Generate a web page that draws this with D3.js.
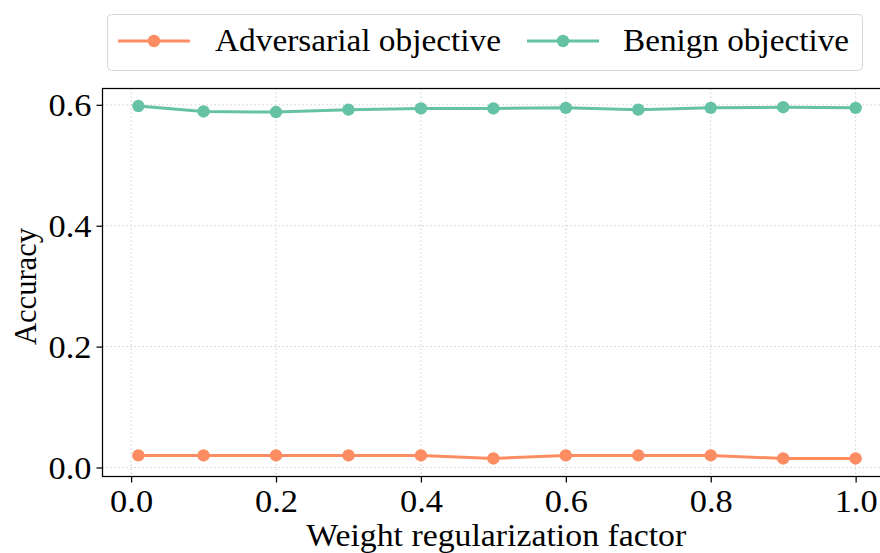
<!DOCTYPE html>
<html>
<head>
<meta charset="utf-8">
<script src="https://cdn.jsdelivr.net/npm/d3@7"></script>
<style>
  body { margin: 0; background: #fff; }
  svg { display: block; }
</style>
</head>
<body>
<div id="chart"></div>
<script>
// values
var factors = [0.01, 0.1, 0.2, 0.3, 0.4, 0.5, 0.6, 0.7, 0.8, 0.9, 1.0];
var adversarial = [0.02, 0.02, 0.02, 0.02, 0.02, 0.015, 0.02, 0.02, 0.02, 0.015, 0.015];
var benign = [0.598, 0.589, 0.588, 0.592, 0.594, 0.594, 0.595, 0.592, 0.595, 0.596, 0.595];
var xTicks = [0.0, 0.2, 0.4, 0.6, 0.8, 1.0];
var yTicks = [0.0, 0.2, 0.4, 0.6];
var seriesNames = ["Adversarial objective", "Benign objective"];

var W = 880, H = 553,
    fontFam = "'Liberation Serif', 'Times New Roman', Tinos, serif",
    advColor = "#fc8d62",
    benColor = "#66c2a5";

// plot box (right edge runs past the window like the original)
var box = { left: 102.5, top: 88.5, right: 891.5, bottom: 476.5 };

var svg = d3.select("#chart")
    .append("svg")
    .attr("width", W)
    .attr("height", H);

var xScale = d3.scaleLinear()
    .domain([-0.0395, 1.0495])
    .range([box.left, box.right]);

var yScale = d3.scaleLinear()
    .domain([-0.0149, 0.627])
    .range([box.bottom, box.top]);

// dotted grid
var grid = svg.append("g").attr("class", "grid");
grid.selectAll(".gx")
    .data(xTicks)
    .enter()
    .append("line")
    .attr("x1", function (d) { return xScale(d); })
    .attr("x2", function (d) { return xScale(d); })
    .attr("y1", box.top)
    .attr("y2", box.bottom)
    .attr("stroke", "#cfcfcf")
    .attr("stroke-width", 1)
    .attr("stroke-dasharray", "1.5,2.5");
grid.selectAll(".gy")
    .data(yTicks)
    .enter()
    .append("line")
    .attr("y1", function (d) { return yScale(d); })
    .attr("y2", function (d) { return yScale(d); })
    .attr("x1", box.left)
    .attr("x2", box.right)
    .attr("stroke", "#cfcfcf")
    .attr("stroke-width", 1)
    .attr("stroke-dasharray", "1.5,2.5");

// the two series
var series = [
    { name: seriesNames[0], values: adversarial, color: advColor },
    { name: seriesNames[1], values: benign, color: benColor }
];

var line = d3.line()
    .x(function (d) { return xScale(d[0]); })
    .y(function (d) { return yScale(d[1]); });

series.forEach(function (s) {
    var pts = factors.map(function (f, i) { return [f, s.values[i]]; });
    svg.append("path")
        .attr("d", line(pts))
        .attr("fill", "none")
        .attr("stroke", s.color)
        .attr("stroke-width", 3)
        .attr("stroke-linejoin", "round");
    svg.selectAll(null)
        .data(pts)
        .enter()
        .append("circle")
        .attr("cx", function (d) { return xScale(d[0]); })
        .attr("cy", function (d) { return yScale(d[1]); })
        .attr("r", 6.2)
        .attr("fill", s.color);
});

// frame
svg.append("rect")
    .attr("x", box.left)
    .attr("y", box.top)
    .attr("width", box.right - box.left)
    .attr("height", box.bottom - box.top)
    .attr("fill", "none")
    .attr("stroke", "#000")
    .attr("stroke-width", 1.25);

// axes
var xAxis = svg.append("g")
    .attr("transform", "translate(0," + box.bottom + ")")
    .call(d3.axisBottom(xScale)
        .tickValues(xTicks)
        .tickSizeOuter(0)
        .tickSize(6)
        .tickPadding(7)
        .tickFormat(d3.format(".1f")));
var yAxis = svg.append("g")
    .attr("transform", "translate(" + box.left + ",0)")
    .call(d3.axisLeft(yScale)
        .tickValues(yTicks)
        .tickSizeOuter(0)
        .tickSize(6)
        .tickPadding(5)
        .tickFormat(d3.format(".1f")));

[xAxis, yAxis].forEach(function (a) {
    a.select(".domain").remove();
    a.selectAll(".tick line").attr("stroke", "#000").attr("stroke-width", 1.25);
    a.selectAll(".tick text")
        .attr("fill", "#000")
        .style("font-size", "31px")
        .style("font-family", fontFam)
        .attr("textLength", 43)
        .attr("lengthAdjust", "spacingAndGlyphs");
});
yAxis.selectAll(".tick text").attr("dy", "0.34em");

// axis labels
svg.append("text")
    .attr("x", (box.left + 880) / 2 + 5)
    .attr("y", 546)
    .attr("text-anchor", "middle")
    .style("font-family", fontFam)
    .style("font-size", "31px")
    .attr("textLength", 380)
    .attr("lengthAdjust", "spacingAndGlyphs")
    .text("Weight regularization factor");

svg.append("text")
    .attr("transform", "translate(36," + ((box.top + box.bottom) / 2 + 4) + ") rotate(-90)")
    .attr("text-anchor", "middle")
    .style("font-family", fontFam)
    .style("font-size", "31px")
    .attr("textLength", 117)
    .attr("lengthAdjust", "spacingAndGlyphs")
    .text("Accuracy");

// legend
var legend = svg.append("g");
legend.append("rect")
    .attr("x", 107.5)
    .attr("y", 14.5)
    .attr("width", 755)
    .attr("height", 56)
    .attr("rx", 4)
    .attr("fill", "#fff")
    .attr("fill-opacity", 0.8)
    .attr("stroke", "#d6d6d6")
    .attr("stroke-width", 1);

var legendItems = [
    { color: advColor, name: seriesNames[0], x0: 118, textX: 215, textLen: 286 },
    { color: benColor, name: seriesNames[1], x0: 527, textX: 623, textLen: 226 }
];

var li = legend.selectAll(".legend-item")
    .data(legendItems)
    .enter()
    .append("g")
    .attr("class", "legend-item");

li.append("line")
    .attr("x1", function (d) { return d.x0; })
    .attr("x2", function (d) { return d.x0 + 72; })
    .attr("y1", 41)
    .attr("y2", 41)
    .attr("stroke", function (d) { return d.color; })
    .attr("stroke-width", 3);
li.append("circle")
    .attr("cx", function (d) { return d.x0 + 36; })
    .attr("cy", 41)
    .attr("r", 6.2)
    .attr("fill", function (d) { return d.color; });
li.append("text")
    .attr("x", function (d) { return d.textX; })
    .attr("y", 51)
    .style("font-family", fontFam)
    .style("font-size", "31px")
    .attr("textLength", function (d) { return d.textLen; })
    .attr("lengthAdjust", "spacingAndGlyphs")
    .text(function (d) { return d.name; });
</script>
</body>
</html>
